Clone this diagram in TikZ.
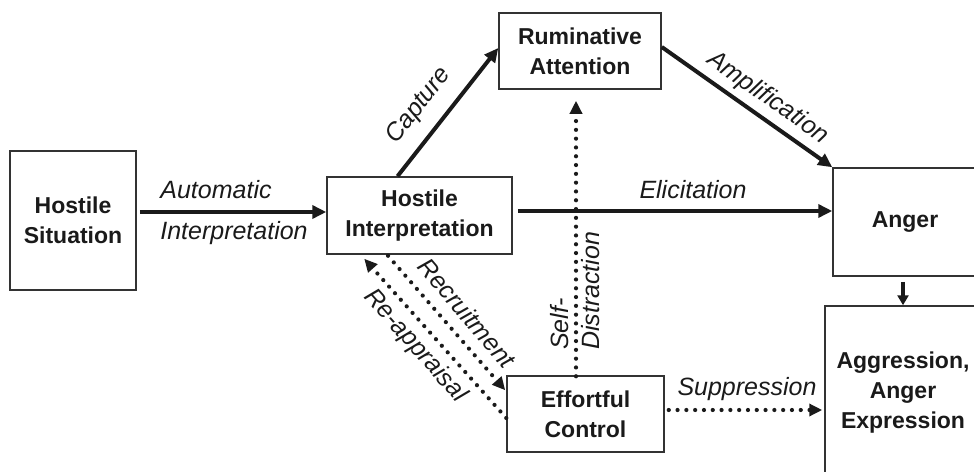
\documentclass[tikz,border=0pt]{standalone}
\usepackage{fontspec}
\setmainfont{Liberation Sans}
\usetikzlibrary{arrows.meta}
\definecolor{ink}{HTML}{1A1A1A}
\definecolor{frame}{HTML}{333333}
\begin{document}
\begin{tikzpicture}[x=1pt,y=-1pt,
  box/.style={draw=frame,line width=1.5pt,inner sep=0pt,align=center,
    text=ink,font=\bfseries\fontsize{23}{30}\selectfont},
  lbl/.style={inner sep=0pt,text=ink,font=\itshape\fontsize{25}{31}\selectfont},
  arr/.style={draw=ink,line width=4pt,-{Triangle[length=14pt,width=13pt]}},
  dotarr/.style={draw=ink,line width=4.2pt,line cap=round,
    dash pattern=on 0pt off 8.8pt,-{Triangle[length=13pt,width=12pt]}}]
\useasboundingbox (0,0) rectangle (974,471);
\clip (0,0) rectangle (974,471);

% boxes
\node[box,minimum width=126pt,minimum height=139pt] (hs) at (73,220.5) {Hostile\\Situation};
\node[box,minimum width=185pt,minimum height=77pt] (hi) at (419.5,215.5) {Hostile\\Interpretation};
\node[box,minimum width=162pt,minimum height=76pt] (ra) at (580,51) {Ruminative\\Attention};
\node[box,minimum width=157pt,minimum height=76pt] (ec) at (585.5,414) {Effortful\\Control};
\node[box,minimum width=144pt,minimum height=108pt] (anger) at (905,222) {Anger};
\node[box,minimum width=156pt,minimum height=173pt] (aggr) at (903,392.5) {Aggression,\\Anger\\Expression};

% solid links
\draw[arr] ([xshift=3pt,yshift=8.5pt]hs.east) -- ([yshift=3.5pt]hi.west);
\draw[arr] ([xshift=-22pt]hi.north) -- ([yshift=3pt]ra.west);
\draw[arr] ([yshift=4pt]ra.east) -- (anger.north west);
\draw[arr] ([xshift=5pt,yshift=4.5pt]hi.east) -- ([yshift=11pt]anger.west);
\draw[draw=ink,line width=3.4pt,-{Triangle[length=10pt,width=11pt]}]
  ([xshift=-2pt,yshift=-5pt]anger.south) -- (aggr.north);

% dotted control links
\draw[dotarr] ([xshift=-9.5pt,yshift=-1pt]ec.north) -- ([xshift=-4pt,yshift=-11pt]ra.south);
\draw[dotarr] ([xshift=4pt,yshift=4pt]ec.east) -- ([xshift=-2pt,yshift=-17.5pt]aggr.west);
\draw[dotarr] ([xshift=-31.5pt,yshift=-1pt]hi.south) -- ([xshift=-1pt,yshift=-15pt]ec.north west);
\draw[dotarr] ([yshift=-4pt]ec.west) -- ([xshift=38pt,yshift=-4pt]hi.south west);

% link labels
\node[lbl] (lauto) at (216,190) {Automatic};
\node[lbl] (linterp) at (234,233) {Interpretation};
\node[lbl,rotate=51.7] (lcap) at (419,106) {Capture};
\node[lbl,rotate=-35.1] (lamp) at (768,98) {Amplification};
\node[lbl] (lelic) at (693,190) {Elicitation};
\node[lbl] (lsupp) at (747,389) {Suppression};
\node[lbl,rotate=-49.3] (lrec) at (467,313) {Recruitment};
\node[lbl,rotate=-48.4] (lreap) at (415,346) {Re-appraisal};
\node[lbl,rotate=90,anchor=west,align=left] (lself) at (575.5,350) {Self-\\Distraction};
\end{tikzpicture}
\end{document}
